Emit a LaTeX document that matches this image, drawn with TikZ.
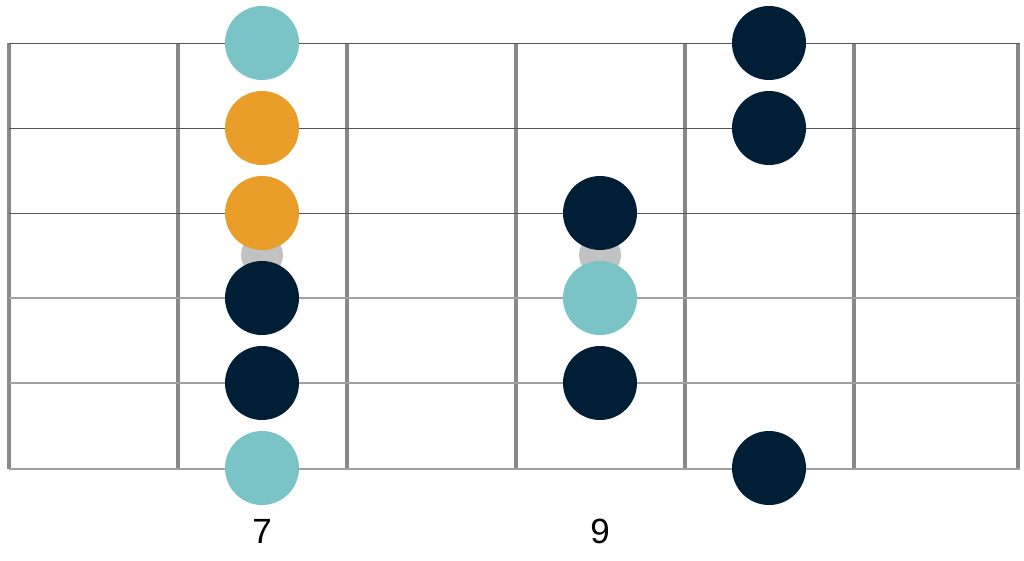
\documentclass[tikz,border=0pt]{standalone}
\usepackage{fontspec}
\setmainfont{Liberation Sans}
\definecolor{teal}{HTML}{7AC4C8}
\definecolor{orng}{HTML}{E89E28}
\definecolor{navy}{HTML}{001F36}
\definecolor{mark}{HTML}{C2C2C2}
\definecolor{fret}{HTML}{888888}
\definecolor{thinstr}{HTML}{555555}
\definecolor{thickstr}{HTML}{A0A0A0}
\begin{document}
\begin{tikzpicture}[x=1pt,y=-1pt,
  fretline/.style={draw=fret,line width=3.5pt},
  thinstring/.style={draw=thinstr,line width=1pt},
  thickstring/.style={draw=thickstr,line width=2.6pt},
  dot/.style={circle,minimum size=74pt,inner sep=0pt,draw=none},
  tealdot/.style={dot,fill=teal},
  orangedot/.style={dot,fill=orng},
  navydot/.style={dot,fill=navy},
  markdot/.style={circle,minimum size=42pt,inner sep=0pt,fill=mark},
  fretnum/.style={font=\fontsize{35}{40}\selectfont,text=black}]
\useasboundingbox (0,0) rectangle (1024,560);
\fill[white] (0,0) rectangle (1024,560);
% frets
\foreach \x in {9,178,347,516,685,854,1018}
  \draw[fretline] (\x,43) -- (\x,469);
% strings
\foreach \y in {43,128,213}
  \draw[thinstring] (9,\y) -- (1020,\y);
\foreach \y in {298,383,469}
  \draw[thickstring] (9,\y) -- (1020,\y);
% position markers
\node[markdot] (m7) at (262,255) {};
\node[markdot] (m9) at (600,255) {};
% notes fret 7
\node[tealdot]   (a1) at (262,43) {};
\node[orangedot] (a2) at (262,128) {};
\node[orangedot] (a3) at (262,213) {};
\node[navydot]   (a4) at (262,298) {};
\node[navydot]   (a5) at (262,383) {};
\node[tealdot]   (a6) at (262,468) {};
% notes fret 9
\node[navydot]   (b3) at (600,213) {};
\node[tealdot]   (b4) at (600,298) {};
\node[navydot]   (b5) at (600,383) {};
% notes fret 10
\node[navydot]   (c1) at (769,43) {};
\node[navydot]   (c2) at (769,128) {};
\node[navydot]   (c6) at (769,468) {};
% labels
\node[fretnum] (l7) at (262,531) {7};
\node[fretnum] (l9) at (600,531) {9};
\end{tikzpicture}
\end{document}
